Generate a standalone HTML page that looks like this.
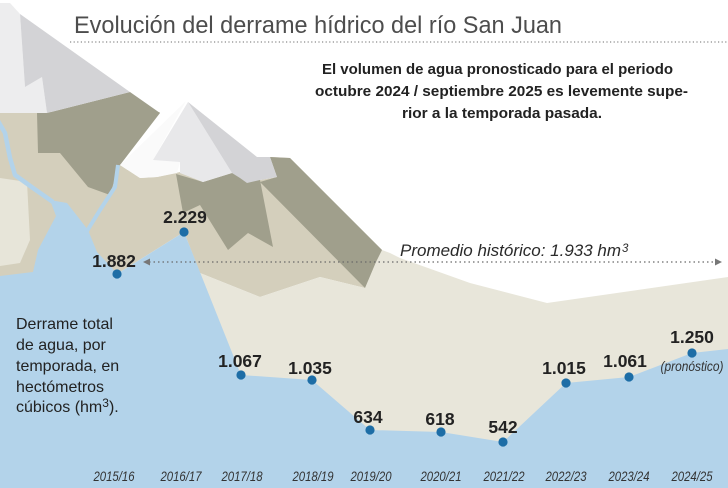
<!DOCTYPE html>
<html>
<head>
<meta charset="utf-8">
<style>
  html, body { margin: 0; padding: 0; background: #ffffff; }
  body { width: 728px; height: 488px; overflow: hidden; }
  svg { display: block; font-family: "Liberation Sans", Arial, sans-serif; }
</style>
</head>
<body>
<svg width="728" height="488" viewBox="0 0 728 488" xmlns="http://www.w3.org/2000/svg">
  <rect width="728" height="488" fill="#ffffff"/>

  <!-- medium beige base of mountains -->
  <polygon fill="#d4cfbc" points="0,112 160,112 120,165 140,178 157,177 180,172 203,182 232,173 260,180 277,177 270,157 290,158 382,250 376,262 365,288 320,277 260,297 200,273 184,232 117,274 0,280"/>
  <!-- light left patch -->
  <polygon fill="#e7e5d9" points="0,178 27,182 30,240 20,263 0,266"/>
  <!-- light foreground plain -->
  <polygon fill="#e8e6da" points="200,273 260,297 320,277 365,288 376,262 382,250 390,253 400,258 470,283 547,303 728,277 728,488 200,488"/>

  <!-- dark khaki shapes -->
  <polygon fill="#a09f8c" points="37,113 47,113 130,92 160,113 120,165 118,168 110,195 88,187 60,153 38,153"/>
  <polygon fill="#a09f8c" points="176,174 203,182 232,173 260,180 273,247 248,233 228,250 200,205 183,213"/>
  <polygon fill="#a09f8c" points="270,157 290,158 382,250 376,262 365,288 260,182 277,177"/>

  <!-- left mountain snow -->
  <polygon fill="#ededee" points="0,3 10,3 20,14 25,87 42,77 47,113 0,113"/>
  <polygon fill="#d3d3d6" points="20,14 130,92 47,113 42,77 25,87"/>

  <!-- middle mountain snow -->
  <polygon fill="#fafafa" points="186,101 153,160 180,162 177,173 157,177 140,178 120,165"/>
  <polygon fill="#e8e8ea" points="188,102 232,173 203,182 180,173 180,162 153,160"/>
  <polygon fill="#d3d3d6" points="188,102 257,157 270,157 277,177 260,180 247,183 240,178 232,173"/>

  <!-- water -->
  <polygon fill="#b3d3ea" points="0,276 33,272 38,250 56,216 50,200 67,203 78,217 88,230 97,252 112,268 117,274 184,232 241,375 312,380 370,430 441,432 503,442 566,383 629,377 692,353 728,349 728,488 0,488"/>
  <polyline fill="none" stroke="#b3d3ea" stroke-width="4.5" stroke-linejoin="round" points="-2,121 5,133 10,158 15,175 33,188 53,202"/>
  <polyline fill="none" stroke="#b3d3ea" stroke-width="4" stroke-linejoin="round" points="118,165 115,187 100,210 87,231"/>

  <!-- title -->
  <text x="74" y="33" font-size="24.5" fill="#4d4d4d" textLength="488" lengthAdjust="spacingAndGlyphs">Evolución del derrame hídrico del río San Juan</text>
  <line x1="70" y1="42" x2="728" y2="42" stroke="#8a8a8a" stroke-width="1.2" stroke-dasharray="1.2 2.4"/>

  <!-- subtitle -->
  <g font-weight="bold" font-size="15" fill="#222">
    <text x="322" y="74" textLength="351" lengthAdjust="spacingAndGlyphs">El volumen de agua pronosticado para el periodo</text>
    <text x="315" y="96" textLength="373" lengthAdjust="spacingAndGlyphs">octubre 2024 / septiembre 2025 es levemente supe-</text>
    <text x="402" y="118" textLength="200" lengthAdjust="spacingAndGlyphs">rior a la temporada pasada.</text>
  </g>

  <!-- historical average -->
  <line x1="149" y1="262" x2="716" y2="262" stroke="#6a6a6a" stroke-width="1.3" stroke-dasharray="1.5 3"/>
  <polygon fill="#777" points="143,262 150,258.5 150,265.5"/>
  <polygon fill="#777" points="722,262 715,258.5 715,265.5"/>
  <text x="400" y="256" font-size="16.5" font-style="italic" fill="#2a2a2a" textLength="221" lengthAdjust="spacingAndGlyphs">Promedio histórico: 1.933 hm</text>
  <text x="622" y="252" font-size="11.5" font-style="italic" fill="#2a2a2a">3</text>

  <!-- left description -->
  <g font-size="16" fill="#222">
    <text x="16" y="329">Derrame total</text>
    <text x="16" y="350">de agua, por</text>
    <text x="16" y="371">temporada, en</text>
    <text x="16" y="392">hectómetros</text>
    <text x="16" y="412">cúbicos (hm<tspan font-size="12" dy="-5">3</tspan><tspan dy="5">).</tspan></text>
  </g>

  <!-- dots -->
  <g fill="#1d6da6">
    <circle cx="117" cy="274" r="4.6"/>
    <circle cx="184" cy="232" r="4.6"/>
    <circle cx="241" cy="375" r="4.6"/>
    <circle cx="312" cy="380" r="4.6"/>
    <circle cx="370" cy="430" r="4.6"/>
    <circle cx="441" cy="432" r="4.6"/>
    <circle cx="503" cy="442" r="4.6"/>
    <circle cx="566" cy="383" r="4.6"/>
    <circle cx="629" cy="377" r="4.6"/>
    <circle cx="692" cy="353" r="4.6"/>
  </g>

  <!-- value labels -->
  <g font-weight="bold" font-size="17.5" fill="#222" text-anchor="middle">
    <text x="114" y="267">1.882</text>
    <text x="185" y="223">2.229</text>
    <text x="240" y="367">1.067</text>
    <text x="310" y="374">1.035</text>
    <text x="368" y="423">634</text>
    <text x="440" y="425">618</text>
    <text x="503" y="433">542</text>
    <text x="564" y="374">1.015</text>
    <text x="625" y="367">1.061</text>
    <text x="692" y="343">1.250</text>
  </g>
  <text x="692" y="371" font-size="13.5" font-style="italic" fill="#333" text-anchor="middle" textLength="63" lengthAdjust="spacingAndGlyphs">(pronóstico)</text>

  <!-- x axis labels -->
  <g font-size="14" font-style="italic" fill="#333" text-anchor="middle">
    <text x="114" y="481" textLength="41" lengthAdjust="spacingAndGlyphs">2015/16</text>
    <text x="181" y="481" textLength="41" lengthAdjust="spacingAndGlyphs">2016/17</text>
    <text x="242" y="481" textLength="41" lengthAdjust="spacingAndGlyphs">2017/18</text>
    <text x="313" y="481" textLength="41" lengthAdjust="spacingAndGlyphs">2018/19</text>
    <text x="371" y="481" textLength="41" lengthAdjust="spacingAndGlyphs">2019/20</text>
    <text x="441" y="481" textLength="41" lengthAdjust="spacingAndGlyphs">2020/21</text>
    <text x="504" y="481" textLength="41" lengthAdjust="spacingAndGlyphs">2021/22</text>
    <text x="566" y="481" textLength="41" lengthAdjust="spacingAndGlyphs">2022/23</text>
    <text x="629" y="481" textLength="41" lengthAdjust="spacingAndGlyphs">2023/24</text>
    <text x="692" y="481" textLength="41" lengthAdjust="spacingAndGlyphs">2024/25</text>
  </g>
</svg>
</body>
</html>
